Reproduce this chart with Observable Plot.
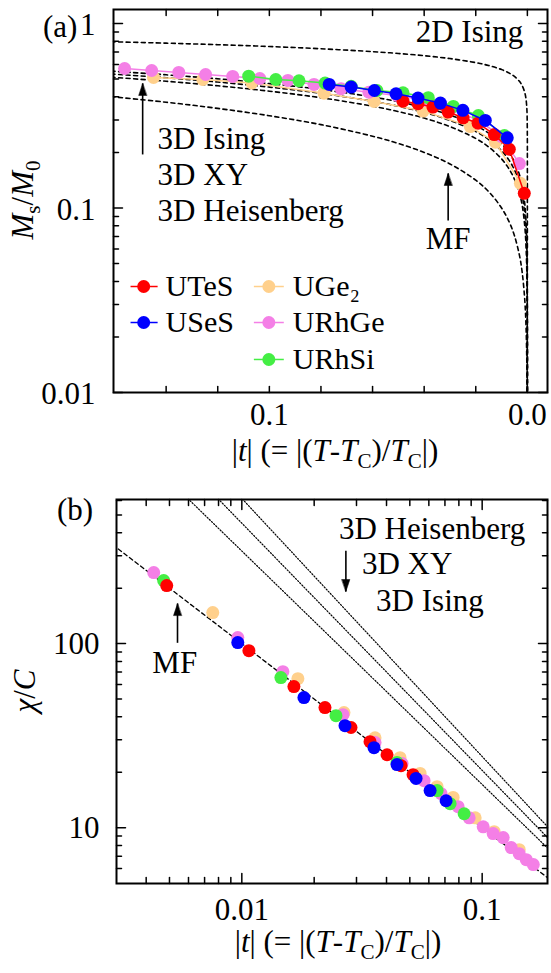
<!DOCTYPE html>
<html><head><meta charset="utf-8">
<script src="https://cdn.jsdelivr.net/npm/d3@7"></script>
<script src="https://cdn.jsdelivr.net/npm/@observablehq/plot@0.6"></script>
<style>
body{margin:0;background:#fff;}
#chart{width:551px;height:973px;}
#chart svg{display:block;}
</style></head><body><div id="chart"></div>
<script>
// ---------- series ----------
const seriesNames = ["UTeS","USeS","UGe₂","URhGe","URhSi"];
const seriesColors = ["#ff0000","#0000ff","#ffd08c","#f47fe6","#44ee44"];
const drawOrder = [2,3,4,0,1];

// ---------- panel (a): Ms/M0 vs |t| ----------
const tA_UTeS = [0.0482,0.0424,0.0366,0.0307,0.0249,0.0191,0.0128,0.0070,0.0012];
const mA_UTeS = [0.379,0.367,0.352,0.331,0.308,0.288,0.250,0.208,0.120];
const tA_USeS = [0.0768,0.0683,0.0593,0.0509,0.0424,0.0337,0.0250,0.0163,0.0078];
const mA_USeS = [0.467,0.452,0.433,0.416,0.394,0.370,0.338,0.298,0.240];
const tA_UGe2 = [0.1449,0.1258,0.1068,0.0788,0.0594,0.0404,0.0221,0.0124,0.0027];
const mA_UGe2 = [0.510,0.497,0.476,0.419,0.378,0.335,0.276,0.227,0.136];
const tA_URhGe = [0.1561,0.1456,0.1351,0.1247,0.1142,0.1037,0.0928,0.0827,0.0722,0.0614,0.0505,0.0400,0.0295,0.0190,0.0101,0.0031];
const mA_URhGe = [0.570,0.556,0.543,0.529,0.516,0.503,0.491,0.467,0.443,0.424,0.407,0.383,0.346,0.298,0.244,0.174];
const tA_URhSi = [0.1080,0.0975,0.0885,0.0784,0.0683,0.0583,0.0482,0.0384,0.0287,0.0190,0.0089];
const mA_URhSi = [0.518,0.497,0.489,0.475,0.456,0.433,0.421,0.396,0.355,0.317,0.247];

// theory curves (a)
const tTheoryA = [0.17,0.14,0.12,0.10,0.08,0.06,0.05,0.04,0.03,0.02,0.015,0.01,0.007,0.005,0.003,0.002,0.001,0.0005,0.0002,0.0001,1e-5,1e-6,1e-8,1e-12,1e-16,1e-18];
const mMF_A    = [0.4123,0.3742,0.3464,0.3162,0.2828,0.2449,0.2236,0.2,0.1732,0.1414,0.1225,0.1,0.0837,0.0707,0.0548,0.0447,0.0316,0.0224,0.01414,0.01,0.00316,0.001,0.0001,1e-6,1e-8,1e-9];
const mHeis_A  = [0.5220,0.4860,0.4593,0.4295,0.3957,0.3560,0.3330,0.3069,0.2761,0.2379,0.2141,0.1845,0.1619,0.1430,0.1186,0.1034,0.0793,0.0614,0.0439,0.0340,0.01462,0.00628,0.00116,3.9e-5,1.3e-6,2.5e-7];
const mXY_A    = [0.5426,0.5074,0.4812,0.4519,0.4182,0.3788,0.3557,0.3294,0.2983,0.2594,0.2349,0.2042,0.1805,0.1608,0.1348,0.1172,0.0923,0.0726,0.0529,0.0417,0.01884,0.00851,0.00174,7.2e-5,3.0e-6,6.2e-7];
const mIsing_A = [0.5611,0.5267,0.5010,0.4721,0.4388,0.3996,0.3765,0.3502,0.3188,0.2793,0.2543,0.2228,0.1983,0.1778,0.1505,0.1318,0.1052,0.0839,0.0622,0.0497,0.0234,0.01107,0.00247,1.22e-4,6.1e-6,1.35e-6];
const m2D_A    = [0.8013,0.7820,0.7671,0.7499,0.7292,0.7035,0.6876,0.6687,0.6451,0.6133,0.5916,0.5623,0.5378,0.5158,0.4839,0.4599,0.4217,0.3867,0.3448,0.3162,0.2371,0.1778,0.1,0.0316,0.01,0.00562];

const xTicksA = [0.14,0.12,0.10,0.08,0.06,0.04,0.02,0.0];
const xLabelValsA = [0.1,0.0];
const xLabelTextA = ["0.1","0.0"];
const yMajorA = [0.01,0.1,1];
const yLabelTextA = ["0.01","0.1","1"];
const yMinorA = [0.02,0.03,0.04,0.05,0.06,0.07,0.08,0.09,0.2,0.3,0.4,0.5,0.6,0.7,0.8,0.9];

// legend (a)
const legT0 = [0.1538,0.1538,0.1060,0.1060,0.1060];
const legT1 = [0.1433,0.1433,0.0944,0.0944,0.0944];
const legTdot = [0.1487,0.1487,0.1002,0.1002,0.1002];
const legTtext = [0.1402,0.1402,0.0909,0.0909,0.0909];
const legM = [0.03753,0.02395,0.03753,0.02395,0.01510];

// annotations (a)
const annTextA = ["2D Ising","3D Ising","3D XY","3D Heisenberg","MF"];
const annTA = [0.00155,0.1433,0.1433,0.1433,0.0307];
const annMA = [0.789,0.210,0.134,0.0855,0.0596];
const annAnchorA = ["end","start","start","start","middle"];
const arrTailTA = [0.1491,0.0307], arrTailMA = [0.195,0.0855];
const arrTipTA  = [0.1491,0.0307], arrTipMA  = [0.473,0.1538];
const arrDirA = [0,0];

// ---------- panel (b): chi/C vs |t| ----------
const tB_UTeS = [0.00487,0.0107,0.01647,0.02218,0.02846,0.03415,0.0402,0.04597,0.05158];
const cB_UTeS = [206.7,91.6,58.4,44.9,35.0,29.3,24.9,21.7,19.4];
const tB_USeS = [0.00962,0.01813,0.02687,0.03548,0.04423,0.05309,0.06072,0.07079];
const cB_USeS = [101.3,50.9,35.8,27.2,22.0,18.5,15.9,14.0];
const tB_UGe2 = [0.00757,0.01711,0.02661,0.03583,0.04553,0.05518,0.06494,0.0757,0.09351,0.1122,0.1426];
const cB_UGe2 = [147.4,64.5,42.2,30.8,24.0,19.7,16.7,14.6,11.3,9.51,7.59];
const tB_URhGe = [0.0043,0.00962,0.01482,0.02636,0.03583,0.04642,0.05733,0.06748,0.07943,0.08828,0.101,0.1111,0.1223,0.1321,0.1426,0.1526,0.1632];
const cB_URhGe = [243.2,107.8,70.4,41.1,29.0,22.3,18.0,15.3,13.0,11.3,10.1,9.28,8.83,7.79,7.22,6.7,6.3];
const tB_URhSi = [0.00473,0.01454,0.02465,0.04423,0.06494,0.07356,0.08414];
const cB_URhSi = [220,65.4,40.6,22.6,15.9,13.5,11.9];

// MF and 3D lines (b): end points
const tMF_B = [0.002,0.2], cMF_B = [500,5];
const tIsing_B = [0.005377,0.2], cIsing_B = [700,7.12];
const tXY_B = [0.007212,0.2], cXY_B = [700,8.07];
const tHeis_B = [0.009119,0.2], cHeis_B = [700,9.21];

const xMajorB = [0.01,0.1];
const xLabelTextB = ["0.01","0.1"];
const xMinorB = [0.004,0.005,0.006,0.007,0.008,0.009,0.02,0.03,0.04,0.05,0.06,0.07,0.08,0.09];
const yMajorB = [10,100];
const yLabelTextB = ["10","100"];
const yMinorB = [6,7,8,9,20,30,40,50,60,70,80,90,200,300,400,500,600];

const annTextB = ["3D Heisenberg","3D XY","3D Ising","MF"];
const annTB = [0.02536,0.0316,0.0362,0.00526];
const annCB = [372,240,151,69.6];
const annAnchorB = ["start","start","start","middle"];
const arrTailTB = [0.0054,0.0271], arrTailCB = [101,320];
const arrTipTB  = [0.0054,0.0271], arrTipCB  = [165,192];
const arrDirB = [0,180];

// ---------- build tables ----------
const FONT = "'Liberation Serif','Times New Roman',serif";
const zip = (name, ts, vs) => ts.map((t,i)=>({s:name, t, v: vs[i]}));
const dataA = [zip(0,tA_UTeS,mA_UTeS),zip(1,tA_USeS,mA_USeS),zip(2,tA_UGe2,mA_UGe2),zip(3,tA_URhGe,mA_URhGe),zip(4,tA_URhSi,mA_URhSi)];
const dataB = [zip(0,tB_UTeS,cB_UTeS),zip(1,tB_USeS,cB_USeS),zip(2,tB_UGe2,cB_UGe2),zip(3,tB_URhGe,cB_URhGe),zip(4,tB_URhSi,cB_URhSi)];
const theoryA = [["MF",mMF_A],["Heis",mHeis_A],["XY",mXY_A],["Ising",mIsing_A],["2D",m2D_A]]
  .flatMap(([k,ms]) => tTheoryA.map((t,i)=>({model:k, t, v: ms[i]})));
const theoryB = [["Ising",tIsing_B,cIsing_B],["XY",tXY_B,cXY_B],["Heis",tHeis_B,cHeis_B]]
  .flatMap(([k,ts,cs]) => ts.map((t,i)=>({model:k, t, v: cs[i]})));
const mfB = tMF_B.map((t,i)=>({t, v:cMF_B[i]}));
const legend = seriesNames.map((n,i)=>({n, c:seriesColors[i], t0:legT0[i], t1:legT1[i], td:legTdot[i], tt:legTtext[i], m:legM[i]}));
const annA = annTextA.map((s,i)=>({s, t:annTA[i], v:annMA[i], a:annAnchorA[i]}));
const annB = annTextB.map((s,i)=>({s, t:annTB[i], v:annCB[i], a:annAnchorB[i]}));
const arrowsA = arrTailTA.map((t,i)=>({t1:t, v1:arrTailMA[i], t2:arrTipTA[i], v2:arrTipMA[i], dir:arrDirA[i]}));
const arrowsB = arrTailTB.map((t,i)=>({t1:t, v1:arrTailCB[i], t2:arrTipTB[i], v2:arrTipCB[i], dir:arrDirB[i]}));

const tickShape = {draw(ctx, l){ ctx.moveTo(0,0); ctx.lineTo(0,-l); }};
const headShape = {draw(ctx, l){ ctx.moveTo(0,-l); ctx.lineTo(-4,0); ctx.lineTo(4,0); ctx.closePath(); }};

function tickMarks(vals, anchor, len){
  const rot = {bottom:0, top:180, left:90, right:270}[anchor];
  const ch = (anchor==="bottom"||anchor==="top") ? {x: d=>d} : {y: d=>d};
  return Plot.vector(vals, {...ch, frameAnchor: anchor, anchor:"start", length: len, rotate: rot, shape: tickShape, stroke:"black", strokeWidth:1.5});
}
function arrowMarks(arrows){
  return [
    Plot.link(arrows, {x1:"t1", y1:"v1", x2:"t2", y2:"v2", stroke:"black", strokeWidth:1.6}),
    Plot.vector(arrows, {x:"t2", y:"v2", rotate:"dir", anchor:"end", length:12, shape: headShape, fill:"black", stroke:"black", strokeWidth:0.5})
  ];
}
function annMarks(ann){
  return ["start","middle","end"].map(a => Plot.text(ann.filter(d=>d.a===a), {x:"t", y:"v", text:"s", textAnchor:a, lineAnchor:"bottom", fontSize:31, fontFamily:FONT, fill:"black"}));
}
function seriesMarks(data, withLines){
  return drawOrder.flatMap(k => {
    const c = seriesColors[k];
    const m = [];
    if (withLines) m.push(Plot.line(data[k], {x:"t", y:"v", stroke:c, strokeWidth:1.5}));
    m.push(Plot.dot(data[k], {x:"t", y:"v", fill:c, r:6.5}));
    return m;
  });
}

// ---------- panel (a) ----------
const HA = 476;
const plotA = Plot.plot({
  width: 551, height: HA,
  marginLeft: 113, marginRight: 4, marginTop: 9, marginBottom: HA - 392,
  style: {fontFamily: FONT, background: "white", color: "black"},
  x: {type: "linear", domain: [0.1604, -0.0078], axis: null},
  y: {type: "log", domain: [0.01, 1.19], axis: null},
  marks: [
    Plot.line(theoryA, {x:"t", y:"v", z:"model", stroke:"black", strokeWidth:1.6, strokeDasharray:"4,3.5", curve:"catmull-rom", clip:true}),
    ...seriesMarks(dataA, true),
    Plot.link(legend, {x1:"t0", x2:"t1", y1:"m", y2:"m", stroke:"c", strokeWidth:1.5}),
    Plot.dot(legend, {x:"td", y:"m", fill:"c", r:6.5}),
    Plot.text(legend, {x:"tt", y:"m", text:"n", textAnchor:"start", fontSize:30, fontFamily:FONT, fill:"black"}),
    ...annMarks(annA),
    ...arrowMarks(arrowsA),
    tickMarks(xTicksA, "bottom", 6),
    tickMarks(xTicksA, "top", 6),
    tickMarks(yMajorA, "left", 9),
    tickMarks(yMinorA, "left", 5),
    tickMarks(yMajorA, "right", 9),
    tickMarks(yMinorA, "right", 5),
    Plot.text(xLabelValsA, {x: d=>d, text:(d,i)=>xLabelTextA[i], frameAnchor:"bottom", lineAnchor:"top", dy:10, fontSize:31, fontFamily:FONT, fill:"black"}),
    Plot.text(yMajorA, {y: d=>d, text:(d,i)=>yLabelTextA[i], frameAnchor:"left", textAnchor:"end", dx:-18, dy:2, fontSize:31, fontFamily:FONT, fill:"black"}),
    Plot.frame({stroke:"black", strokeWidth:2})
  ]
});

// ---------- panel (b) ----------
const HB = 973 - HA;
const plotB = Plot.plot({
  width: 551, height: HB,
  marginLeft: 116, marginRight: 4, marginTop: 499 - HA, marginBottom: 90,
  style: {fontFamily: FONT, background: "white", color: "black"},
  x: {type: "log", domain: [0.00301, 0.187], axis: null},
  y: {type: "log", domain: [4.97, 607], axis: null},
  marks: [
    Plot.line(theoryB, {x:"t", y:"v", z:"model", stroke:"black", strokeWidth:1.2, strokeDasharray:"1.2,1.8", clip:true}),
    Plot.line(mfB, {x:"t", y:"v", stroke:"black", strokeWidth:1.3, strokeDasharray:"4,3", clip:true}),
    ...seriesMarks(dataB, false),
    ...annMarks(annB),
    ...arrowMarks(arrowsB),
    tickMarks(xMajorB, "bottom", 10),
    tickMarks(xMinorB, "bottom", 6),
    tickMarks(xMajorB, "top", 10),
    tickMarks(xMinorB, "top", 6),
    tickMarks(yMajorB, "left", 9),
    tickMarks(yMinorB, "left", 5),
    tickMarks(yMajorB, "right", 9),
    tickMarks(yMinorB, "right", 5),
    Plot.text(xMajorB, {x: d=>d, text:(d,i)=>xLabelTextB[i], frameAnchor:"bottom", lineAnchor:"top", dy:14, fontSize:31, fontFamily:FONT, fill:"black"}),
    Plot.text(yMajorB, {y: d=>d, text:(d,i)=>yLabelTextB[i], frameAnchor:"left", textAnchor:"end", dx:-17, fontSize:31, fontFamily:FONT, fill:"black"}),
    Plot.frame({stroke:"black", strokeWidth:2})
  ]
});

const root = document.getElementById("chart");
root.appendChild(plotA);
root.appendChild(plotB);

// ---------- rich text titles ----------
function richText(svg, x, y, parts, size, anchor, rotate){
  const t = d3.select(svg).append("text").attr("x", x).attr("y", y)
    .attr("font-family", FONT).attr("font-size", size).attr("fill", "black")
    .attr("text-anchor", anchor);
  if (rotate) t.attr("transform", `rotate(-90 ${x} ${y})`);
  let down = false;
  for (const p of parts) {
    const s = t.append("tspan").text(p.t);
    if (p.i) s.attr("font-style", "italic");
    if (p.sub) { s.attr("font-size", size*0.68); if (!down) { s.attr("dy", 7); down = true; } }
    else if (down) { s.attr("dy", -7); down = false; }
  }
  return t;
}
const xTitle = [{t:"|"},{t:"t",i:1},{t:"| (= |("},{t:"T",i:1},{t:"-"},{t:"T",i:1},{t:"C",sub:1},{t:")/"},{t:"T",i:1},{t:"C",sub:1},{t:"|)"}];
richText(plotA, 43, 37, [{t:"(a)"}], 31, "start", false);
richText(plotA, 33, 200, [{t:"M",i:1},{t:"s",sub:1},{t:"/"},{t:"M",i:1},{t:"0",sub:1}], 31, "middle", true);
richText(plotA, 335, 461, xTitle, 31, "middle", false);
richText(plotB, 57, 520 - HA, [{t:"(b)"}], 31, "start", false);
richText(plotB, 35, 691 - HA, [{t:"χ",i:1},{t:"/"},{t:"C",i:1}], 31, "middle", true);
richText(plotB, 338, 952 - HA, xTitle, 31, "middle", false);
</script></body></html>
